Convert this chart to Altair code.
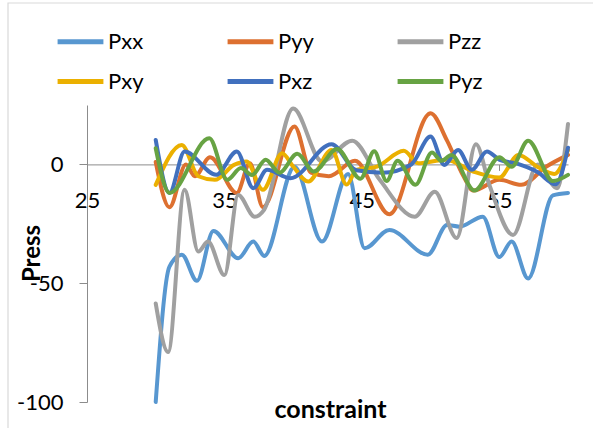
import altair as alt
import pandas as pd

# Pressure tensor components versus constraint; each series is listed at its
# turning points and drawn as a smooth curve.
series_names = ["Pxx", "Pyy", "Pzz", "Pxy", "Pxz", "Pyz"]
series_colors = ["#5897D0", "#DD7030", "#A0A0A0", "#EBB000", "#4170BE", "#67A343"]
# legend entries fill column by column: two rows of three
legend_order = ["Pxx", "Pxy", "Pyy", "Pxz", "Pzz", "Pyz"]

pxx_x = [30, 31.0, 31.9, 33.0, 34.2, 36.0, 37.1, 37.9, 40.1, 42.1, 44.0, 45.2,
         47.0, 49.8, 51.2, 52.1, 53.8, 55.0, 55.9, 57.1, 58.9, 60]
pxx_y = [-100, -43, -38, -49, -28, -39.5, -32.5, -38.5, -1, -32.5, -4, -35.3,
         -27.6, -38, -25.5, -26.2, -22, -39, -32.5, -48, -13, -12]

pyy_x = [30, 31.0, 32.2, 32.85, 33.95, 35.9, 36.85, 37.8, 40.1, 41.3, 42.6, 44.5,
         47.0, 50.0, 51.2, 52.4, 53.1, 55.0, 56.6, 58.4, 60]
pyy_y = [1, -18, 0, -5, 3, -12, 0.5, -18, 16, -3.5, -5, 1.5,
         -21, 21.5, 10, -5, -11, -6.5, -8.6, -1, 4]

pzz_x = [30, 30.9, 32.1, 33.1, 33.8, 35.0, 36.0, 37.2, 37.9, 40.0, 42.1, 44.3,
         46.3, 48.85, 50.3, 51.9, 53.3, 54.3, 56.0, 57.8, 59.2, 60]
pzz_y = [-58.5, -79, -10.7, -36.7, -32.5, -46.6, -12.9, -22, -19, 23.5, 1.2, 10,
         -6.5, -22, -11.5, -31, 8.5, -9, -29.7, 0, -10, 17]

pxy_x = [30, 31.9, 33.1, 34.3, 35.7, 36.6, 37.8, 39.2, 40.0, 41.1, 42.8, 43.9,
         44.6, 46.1, 48.05, 49.1, 51.1, 53.1, 55.0, 56.4, 57.8, 59.0, 60]
pxy_y = [-8.6, 8.2, -5, -6.5, -0.2, 1.2, -10.7, 4.7, -0.9, -7.2, 6.1, -8.5,
         -2.3, -0.9, 5.7, 0.5, 2, -3, -5.5, 4, -1.1, -4, 6]

pxz_x = [30, 31.0, 32.1, 34.4, 35.9, 37.1, 38.1, 39.8, 42.8, 44.6, 46.5, 48.6,
         50.0, 51.0, 52.0, 53.0, 54.1, 55.0, 56.3, 57.8, 59.1, 60]
pxz_y = [10.3, -12, 5.4, -4.4, 5.4, -10, -2.3, -5.8, 8.5, -2.5, -3.5, 0,
         11.7, -0.2, 6.1, -2.3, 5.4, 2, 0.3, -3.3, -8.4, 7]

pyz_x = [30, 31.0, 33.9, 35.2, 36.2, 37.0, 38.0, 39.0, 40.3, 41.5, 43.2, 44.9,
         45.9, 46.8, 47.6, 48.9, 50.1, 50.8, 51.5, 53.2, 55.0, 55.9, 57.1, 58.9, 60]
pyz_y = [6.8, -12, 11, -6.5, -1.5, -4.5, 2, -3.5, 4.5, -3, 6.5, -6,
         5.5, -7, 1.5, -8.6, 5, 1.5, 4, -11, 3, -1, 10, -7, -4.4]

x_lists = [pxx_x, pyy_x, pzz_x, pxy_x, pxz_x, pyz_x]
y_lists = [pxx_y, pyy_y, pzz_y, pxy_y, pxz_y, pyz_y]

x_ticks = [25, 35, 45, 55]
y_ticks = [0, -50, -100]

rows = []
for k, (name, xs, ys) in enumerate(zip(series_names, x_lists, y_lists)):
    for i, (xv, yv) in enumerate(zip(xs, ys)):
        rows.append({"series": name, "constraint": xv, "press": yv, "k": k, "i": i})
df = pd.DataFrame(rows)

W, H = 481, 297
FONT = "Lato"
AXIS_GRAY = "#8C8C8C"
PLAIN_LABEL = "'' + datum.value"

lines = alt.Chart(df).mark_line(
    interpolate="monotone", strokeWidth=4, strokeCap="round", strokeJoin="round"
).encode(
    x=alt.X(
        "constraint:Q",
        scale=alt.Scale(domain=[25, 60], nice=False, zero=False),
        axis=alt.Axis(
            values=x_ticks, title="constraint", offset=-(H * 100 / 125),
            grid=False, tickSize=6, labelPadding=20, labelFontSize=22,
            labelFont=FONT, labelColor="#000000", domainColor=AXIS_GRAY,
            tickColor=AXIS_GRAY, labelFlush=False, labelExpr=PLAIN_LABEL,
            titleFont=FONT, titleFontSize=25, titleFontWeight="bold",
            titleColor="#000000", titleX=243, titleY=245, titleBaseline="middle",
            titleAlign="center",
        ),
    ),
    y=alt.Y(
        "press:Q",
        scale=alt.Scale(domain=[-100, 25], nice=False, zero=False),
        axis=alt.Axis(
            values=y_ticks, title="Press", grid=False, tickSize=8,
            labelPadding=16, labelFontSize=22, labelFont=FONT,
            labelColor="#000000", domainColor=AXIS_GRAY, tickColor=AXIS_GRAY,
            labelFlush=False, labelExpr=PLAIN_LABEL,
            titleFont=FONT, titleFontSize=24, titleFontWeight="bold",
            titleColor="#000000", titleX=-55, titleY=148, titleAngle=-90,
            titleBaseline="middle", titleAlign="center",
        ),
    ),
    color=alt.Color(
        "series:N",
        scale=alt.Scale(domain=series_names, range=series_colors),
        legend=alt.Legend(
            title=None, orient="none", legendX=-32, legendY=-89, columns=3,
            values=legend_order,
            columnPadding=73, rowPadding=3, symbolType="stroke",
            symbolSize=2100, symbolStrokeWidth=5, labelFontSize=22,
            labelFont=FONT, labelColor="#000000", labelOffset=2, padding=0,
        ),
    ),
    detail="series:N",
    order="i:Q",
)

frame = alt.Chart(pd.DataFrame({"f": [0]})).mark_rect(
    fill=None, stroke="#D9D9D9", strokeWidth=1.2
).encode(
    x=alt.value(-79), x2=alt.value(515), y=alt.value(-102), y2=alt.value(340)
)

chart = alt.layer(frame, lines).properties(
    width=W, height=H,
    autosize=alt.AutoSizeParams(type="none"),
    padding={"left": 87, "top": 105, "right": 25, "bottom": 26},
    background="#FFFFFF",
).configure_view(stroke=None)

chart.save("out.html", embed_options={"renderer": "svg", "actions": False})
